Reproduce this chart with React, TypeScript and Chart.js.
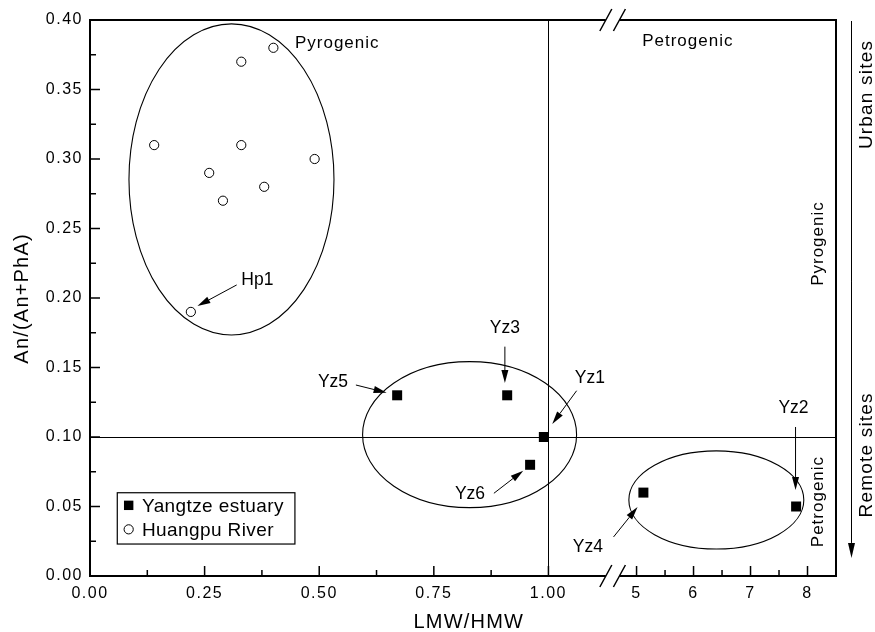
import React, { useEffect, useRef } from 'react';
import { Chart, registerables } from 'chart.js';

Chart.register(...registerables);

const FONT = '"Liberation Sans", Arial, Helvetica, sans-serif';

// ---------------- data ----------------
const yangtzeNames = ['Yz1', 'Yz2', 'Yz3', 'Yz4', 'Yz5', 'Yz6'];
const yangtzeLMW = [0.99, 7.8, 0.91, 5.12, 0.67, 0.96];
const yangtzeAn = [0.1, 0.05, 0.13, 0.06, 0.13, 0.08];

const huangpuLMW = [0.14, 0.26, 0.29, 0.33, 0.33, 0.38, 0.4, 0.49, 0.22];
const huangpuAn = [0.31, 0.29, 0.27, 0.37, 0.31, 0.28, 0.38, 0.3, 0.19];

const seriesNames = ['Yangtze estuary', 'Huangpu River'];

const xMajorTicks = [0, 0.25, 0.5, 0.75, 1, 5, 6, 7, 8];
const xTickLabels = ['0.00', '0.25', '0.50', '0.75', '1.00', '5', '6', '7', '8'];
const xMinorTicks = [0.125, 0.375, 0.625, 0.875, 5.5, 6.5, 7.5];
const yMajorTicks = [0, 0.05, 0.1, 0.15, 0.2, 0.25, 0.3, 0.35, 0.4];
const yTickLabels = ['0.00', '0.05', '0.10', '0.15', '0.20', '0.25', '0.30', '0.35', '0.40'];
const yMinorTicks = [0.025, 0.075, 0.125, 0.175, 0.225, 0.275, 0.325, 0.375];

const xTitle = 'LMW/HMW';
const yTitle = 'An/(An+PhA)';

// broken x axis: [0, SEG1_MAX] then break then [SEG2_MIN, SEG2_MAX]
const SEG1_MAX = 1.14;
const SEG2_MIN = 4.58;
const SEG2_MAX = 8.5;
const SEG2_SCALE = 0.1243;
const toAxis = (v: number) => (v <= SEG1_MAX ? v : SEG1_MAX + (v - SEG2_MIN) * SEG2_SCALE);

// threshold lines
const dividerLMW = 1.0;
const dividerAn = 0.1;

// grouping ellipses (centre / radii in data units)
const ellipseCX = [0.3086, 0.828, 6.4];
const ellipseCY = [0.2853, 0.1017, 0.0547];
const ellipseRX = [0.2236, 0.2334, 1.535];
const ellipseRY = [0.1119, 0.0525, 0.0353];

// sample labels with arrows
const annNames = ['Hp1', 'Yz5', 'Yz3', 'Yz1', 'Yz6', 'Yz4', 'Yz2'];
const annTextX = [0.365, 0.53, 0.905, 1.0905, 0.8288, 1.086, 7.754];
const annTextY = [0.213, 0.1398, 0.1786, 0.1424, 0.059, 0.0209, 0.1209];
const annFromX = [0.32, 0.58, 0.905, 1.0615, 0.881, 4.596, 7.79];
const annFromY = [0.2094, 0.1374, 0.165, 0.1333, 0.0595, 0.0281, 0.1072];
const annToX = [0.2344, 0.647, 0.905, 1.0083, 0.945, 5.0175, 7.79];
const annToY = [0.1942, 0.1319, 0.1388, 0.1094, 0.0758, 0.0496, 0.0619];

// region labels
const regionNames = ['Pyrogenic', 'Petrogenic', 'Pyrogenic', 'Petrogenic'];
const regionX = [0.447, 5.89, 8.28, 8.28];
const regionY = [0.3799, 0.3813, 0.2388, 0.0532];
const regionVertical = [false, false, true, true];

// side gradient arrow
const sideNames = ['Urban sites', 'Remote sites'];
const sideY = [0.346, 0.0867];
const sideArrowTipY = 0.013;

// legend box (data units)
const legendLeft = 0.0595;
const legendRight = 0.447;
const legendTop = 0.0599;
const legendBottom = 0.023;

function drawText(
  ctx: CanvasRenderingContext2D,
  text: string,
  x: number,
  y: number,
  size: number,
  ls: number,
  align: CanvasTextAlign,
  baseline: CanvasTextBaseline,
  vertical = false
) {
  ctx.save();
  ctx.font = `${size}px ${FONT}`;
  (ctx as any).letterSpacing = `${ls}px`;
  ctx.fillStyle = '#000';
  ctx.textAlign = align;
  ctx.textBaseline = baseline;
  ctx.translate(x, y);
  if (vertical) ctx.rotate(-Math.PI / 2);
  let dx = 0;
  if (ls && align === 'center') dx = ls / 2;
  if (ls && align === 'right') dx = ls;
  ctx.fillText(text, dx, 0);
  ctx.restore();
}

function drawArrow(
  ctx: CanvasRenderingContext2D,
  x1: number,
  y1: number,
  x2: number,
  y2: number,
  len = 13,
  hw = 3.5
) {
  const ang = Math.atan2(y2 - y1, x2 - x1);
  const bx = x2 - len * Math.cos(ang);
  const by = y2 - len * Math.sin(ang);
  ctx.beginPath();
  ctx.moveTo(x1, y1);
  ctx.lineTo(bx, by);
  ctx.stroke();
  ctx.beginPath();
  ctx.moveTo(x2, y2);
  ctx.lineTo(bx + hw * Math.sin(ang), by - hw * Math.cos(ang));
  ctx.lineTo(bx - hw * Math.sin(ang), by + hw * Math.cos(ang));
  ctx.closePath();
  ctx.fill();
}

const decorPlugin = {
  id: 'decor',
  beforeDraw(chart: any) {
    chart.ctx.letterSpacing = '1.5px';
  },
  beforeDatasetsDraw(chart: any) {
    const ctx: CanvasRenderingContext2D = chart.ctx;
    const a = chart.chartArea;
    const xs = chart.scales.x;
    const ys = chart.scales.y;
    const px = (v: number) => xs.getPixelForValue(toAxis(v));
    const py = (v: number) => ys.getPixelForValue(v);
    ctx.save();
    ctx.strokeStyle = '#000';
    ctx.fillStyle = '#000';

    // threshold lines
    ctx.lineWidth = 1;
    ctx.beginPath();
    ctx.moveTo(Math.round(px(dividerLMW)) + 0.5, a.top);
    ctx.lineTo(Math.round(px(dividerLMW)) + 0.5, a.bottom);
    ctx.moveTo(a.left, Math.round(py(dividerAn)) + 0.5);
    ctx.lineTo(a.right, Math.round(py(dividerAn)) + 0.5);
    ctx.stroke();

    // ellipses
    ctx.lineWidth = 1.1;
    for (let i = 0; i < ellipseCX.length; i++) {
      const cx = px(ellipseCX[i]);
      const cy = py(ellipseCY[i]);
      const rx = Math.abs(px(ellipseCX[i] + ellipseRX[i]) - cx);
      const ry = Math.abs(py(ellipseCY[i] + ellipseRY[i]) - cy);
      ctx.beginPath();
      ctx.ellipse(cx, cy, rx, ry, 0, 0, Math.PI * 2);
      ctx.stroke();
    }

    // frame with axis break
    const bx = xs.getPixelForValue(SEG1_MAX);
    const gap = 6.8;
    ctx.lineWidth = 2;
    ctx.beginPath();
    ctx.moveTo(a.left, a.top - 1);
    ctx.lineTo(a.left, a.bottom + 1);
    ctx.moveTo(a.right, a.top - 1);
    ctx.lineTo(a.right, a.bottom + 1);
    ctx.moveTo(a.left - 1, a.top);
    ctx.lineTo(bx - gap, a.top);
    ctx.moveTo(bx + gap, a.top);
    ctx.lineTo(a.right + 1, a.top);
    ctx.moveTo(a.left - 1, a.bottom);
    ctx.lineTo(bx - gap, a.bottom);
    ctx.moveTo(bx + gap, a.bottom);
    ctx.lineTo(a.right + 1, a.bottom);
    ctx.stroke();
    ctx.lineWidth = 1.5;
    ctx.beginPath();
    for (const yy of [a.top, a.bottom]) {
      for (const cx of [bx - gap, bx + gap]) {
        ctx.moveTo(cx - 6, yy + 11);
        ctx.lineTo(cx + 6, yy - 11);
      }
    }
    ctx.stroke();

    // inward ticks
    ctx.lineWidth = 1.5;
    ctx.beginPath();
    for (const v of xMajorTicks) {
      const x = px(v);
      ctx.moveTo(x, a.bottom);
      ctx.lineTo(x, a.bottom - 10);
    }
    for (const v of xMinorTicks) {
      const x = px(v);
      ctx.moveTo(x, a.bottom);
      ctx.lineTo(x, a.bottom - 6);
    }
    for (const v of yMajorTicks) {
      const y = py(v);
      ctx.moveTo(a.left, y);
      ctx.lineTo(a.left + 10, y);
    }
    for (const v of yMinorTicks) {
      const y = py(v);
      ctx.moveTo(a.left, y);
      ctx.lineTo(a.left + 6, y);
    }
    ctx.stroke();
    ctx.restore();
  },
  afterDatasetsDraw(chart: any) {
    const ctx: CanvasRenderingContext2D = chart.ctx;
    const a = chart.chartArea;
    const xs = chart.scales.x;
    const ys = chart.scales.y;
    const px = (v: number) => xs.getPixelForValue(toAxis(v));
    const py = (v: number) => ys.getPixelForValue(v);
    ctx.save();
    ctx.strokeStyle = '#000';
    ctx.fillStyle = '#000';
    ctx.lineWidth = 1;

    // sample annotations
    for (let i = 0; i < annNames.length; i++) {
      drawArrow(ctx, px(annFromX[i]), py(annFromY[i]), px(annToX[i]), py(annToY[i]));
      drawText(ctx, annNames[i], px(annTextX[i]), py(annTextY[i]), 17.5, 0, 'center', 'middle');
    }

    // region labels
    for (let i = 0; i < regionNames.length; i++) {
      if (regionVertical[i]) {
        drawText(ctx, regionNames[i], px(regionX[i]), py(regionY[i]), 17, 1, 'center', 'alphabetic', true);
      } else {
        drawText(ctx, regionNames[i], px(regionX[i]), py(regionY[i]), 17, 1, i === 0 ? 'left' : 'center', 'alphabetic');
      }
    }

    // side arrow (urban -> remote)
    const sx = Math.round(a.right + 15) + 0.5;
    ctx.lineWidth = 1;
    drawArrow(ctx, sx, a.top + 1, sx, py(sideArrowTipY), 15, 3.5);
    for (let i = 0; i < sideNames.length; i++) {
      drawText(ctx, sideNames[i], a.right + 36, py(sideY[i]), 19, 1.2, 'center', 'alphabetic', true);
    }

    // axis titles
    drawText(ctx, xTitle, px(0.825), a.bottom + 46.5, 20, 1.2, 'center', 'middle');
    drawText(ctx, yTitle, a.left - 68, (a.top + a.bottom) / 2 + 1, 20, 1.2, 'center', 'middle', true);

    // legend
    const lx0 = px(legendLeft);
    const lx1 = px(legendRight);
    const ly0 = py(legendTop);
    const ly1 = py(legendBottom);
    ctx.fillStyle = '#fff';
    ctx.fillRect(lx0, ly0, lx1 - lx0, ly1 - ly0);
    ctx.fillStyle = '#000';
    ctx.lineWidth = 1.2;
    ctx.strokeRect(lx0, ly0, lx1 - lx0, ly1 - ly0);
    const mx = lx0 + 11.4;
    ctx.fillRect(mx - 4.7, ly0 + 12.6 - 4.7, 9.4, 9.4);
    ctx.beginPath();
    ctx.arc(mx, ly0 + 36.6, 4.6, 0, Math.PI * 2);
    ctx.fillStyle = '#fff';
    ctx.fill();
    ctx.lineWidth = 1;
    ctx.stroke();
    ctx.fillStyle = '#000';
    drawText(ctx, seriesNames[0], lx0 + 24.7, ly0 + 19, 19, 0.4, 'left', 'alphabetic');
    drawText(ctx, seriesNames[1], lx0 + 24.7, ly0 + 43.3, 19, 0.4, 'left', 'alphabetic');

    ctx.restore();
  },
};

export default function App() {
  const ref = useRef<HTMLCanvasElement>(null);
  useEffect(() => {
    const canvas = ref.current;
    if (!canvas) return;
    const chart = new Chart(canvas, {
      type: 'scatter',
      data: {
        datasets: [
          {
            label: seriesNames[0],
            data: yangtzeLMW.map((x, i) => ({ x: toAxis(x), y: yangtzeAn[i] })),
            pointStyle: 'rect',
            pointRadius: 7.07,
            backgroundColor: '#000',
            borderColor: '#000',
            borderWidth: 0,
          },
          {
            label: seriesNames[1],
            data: huangpuLMW.map((x, i) => ({ x: toAxis(x), y: huangpuAn[i] })),
            pointStyle: 'circle',
            pointRadius: 4.6,
            backgroundColor: '#fff',
            borderColor: '#000',
            borderWidth: 1,
          },
        ],
      },
      options: {
        responsive: false,
        animation: false,
        devicePixelRatio: 1,
        events: [],
        layout: { padding: { left: 0, right: 39, top: 20, bottom: 0 } },
        plugins: { legend: { display: false }, tooltip: { enabled: false } },
        scales: {
          x: {
            type: 'linear',
            min: 0,
            max: toAxis(SEG2_MAX),
            afterFit: (s: any) => {
              s.height = 56;
            },
            afterBuildTicks: (s: any) => {
              s.ticks = xMajorTicks.map((v) => ({ value: toAxis(v) }));
            },
            ticks: {
              autoSkip: false,
              maxRotation: 0,
              padding: 8,
              color: '#000',
              font: { family: FONT, size: 16 },
              callback: (val: any) => {
                const i = xMajorTicks.findIndex((t) => Math.abs(toAxis(t) - Number(val)) < 1e-6);
                return i >= 0 ? xTickLabels[i] : '';
              },
            },
            grid: { display: false, drawTicks: false },
            border: { display: false },
          },
          y: {
            type: 'linear',
            min: 0,
            max: 0.4,
            afterFit: (s: any) => {
              s.width = 90;
            },
            afterBuildTicks: (s: any) => {
              s.ticks = yMajorTicks.map((v) => ({ value: v }));
            },
            ticks: {
              autoSkip: false,
              padding: 7,
              color: '#000',
              font: { family: FONT, size: 16 },
              callback: (val: any) => {
                const i = yMajorTicks.findIndex((t) => Math.abs(t - Number(val)) < 1e-6);
                return i >= 0 ? yTickLabels[i] : '';
              },
            },
            grid: { display: false, drawTicks: false },
            border: { display: false },
          },
        },
      },
      plugins: [decorPlugin],
    } as any);
    return () => chart.destroy();
  }, []);
  return (
    <div style={{ position: 'absolute', left: 0, top: 0, width: 875, height: 632, background: '#fff' }}>
      <canvas ref={ref} width={875} height={632} style={{ display: 'block', width: 875, height: 632 }} />
    </div>
  );
}
